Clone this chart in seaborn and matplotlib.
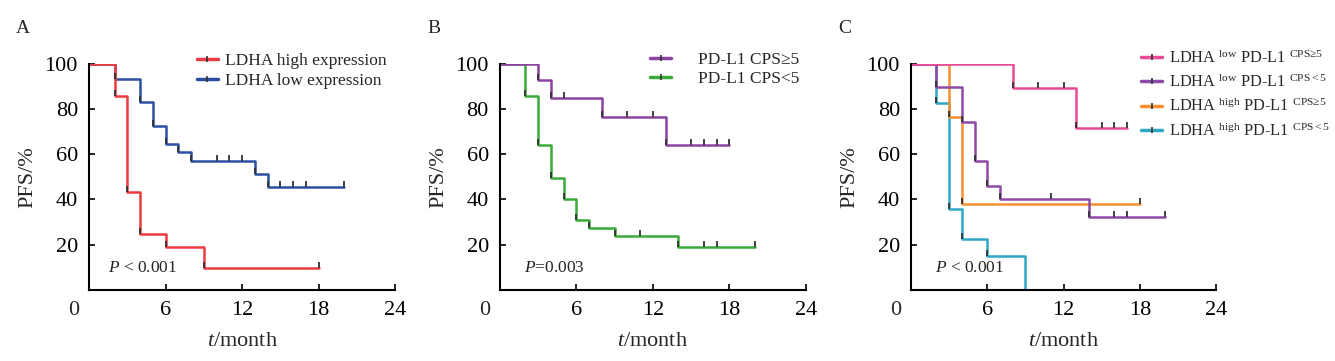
import matplotlib
matplotlib.use("Agg")
import matplotlib.pyplot as plt
import seaborn as sns
from matplotlib.lines import Line2D

# ---- data ----
# panel A
a_high_t = [0, 2, 3, 4, 6, 9, 18]
a_high_s = [100, 85.8, 43.3, 24.7, 19.0, 9.6, 9.6]
a_high_cens = [18]
a_low_t = [0, 2, 4, 5, 6, 7, 8, 13, 14, 20]
a_low_s = [100, 93.1, 83.0, 72.3, 64.7, 60.9, 56.9, 51.5, 45.6, 45.6]
a_low_cens = [10, 11, 12, 15, 16, 17, 20]

# panel B
b_hi_t = [0, 3, 4, 8, 13, 18]
b_hi_s = [100, 93.0, 85.0, 76.7, 64.1, 64.1]
b_hi_cens = [5, 10, 12, 15, 16, 17, 18]
b_lo_t = [0, 2, 3, 4, 5, 6, 7, 9, 14, 20]
b_lo_s = [100, 85.9, 64.2, 49.5, 40.2, 31.1, 27.6, 24.0, 19.1, 19.1]
b_lo_cens = [11, 16, 17, 20]

# panel C
c_ll_t = [0, 8, 13, 17]          # LDHA low / PD-L1 CPS>=5
c_ll_s = [100, 89.2, 71.7, 71.7]
c_ll_cens = [5, 10, 12, 15, 16, 17]
c_lh_t = [0, 2, 4, 5, 6, 7, 14, 20]   # LDHA low / CPS<5
c_lh_s = [100, 89.6, 74.1, 57.2, 46.0, 40.2, 32.3, 32.3]
c_lh_cens = [11, 16, 17, 20]
c_hl_t = [0, 3, 4, 18]           # LDHA high / CPS>=5
c_hl_s = [100, 76.3, 38.2, 38.2]
c_hl_cens = [18]
c_hh_t = [0, 2, 3, 4, 6, 9]      # LDHA high / CPS<5
c_hh_s = [100, 82.7, 36.0, 22.5, 15.2, 0]
c_hh_cens = []

x_ticks = [6, 12, 18, 24]
y_ticks = [20, 40, 60, 80, 100]

sns.set_theme(style="white")
plt.rcParams["font.family"] = ["Liberation Serif", "DejaVu Serif"]
plt.rcParams["mathtext.fontset"] = "custom"
plt.rcParams["mathtext.rm"] = "Liberation Serif"
plt.rcParams["mathtext.it"] = "Liberation Serif:italic"

tick_mark = [(0, 0), (0, 1)]
dark = "#333333"


def km(ax, t, s, cens, color, lw=1.8):
    sns.lineplot(x=t, y=s, ax=ax, color=color, linewidth=lw,
                 drawstyle="steps-post", estimator=None, sort=False)
    # little marks at each drop and at censored times
    drops = [(t[i], s[i]) for i in range(1, len(t)) if s[i] < s[i - 1] and s[i] > 0]
    cs = []
    for c in cens:
        lvl = s[0]
        for ti, si in zip(t, s):
            if ti <= c:
                lvl = si
        cs.append((c, lvl))
    pts = drops + cs
    if pts:
        ax.plot([p[0] for p in pts], [p[1] for p in pts], linestyle="none",
                marker=tick_mark, markersize=9, markeredgewidth=1.3,
                markeredgecolor=dark, zorder=5)


def style(ax, letter):
    ax.set_xlim(0, 24)
    ax.set_ylim(0, 100)
    ax.set_xticks(x_ticks)
    ax.set_yticks(y_ticks)
    ax.tick_params(direction="in", length=4, width=1.2, labelsize=16,
                   colors="black", pad=8, left=True, bottom=True)
    for side in ["top", "right"]:
        ax.spines[side].set_visible(False)
    for side in ["left", "bottom"]:
        ax.spines[side].set_color("black")
        ax.spines[side].set_linewidth(1.5)
    ax.set_xlabel("$t$/month", fontsize=16, labelpad=9)
    ax.set_ylabel("PFS/%", fontsize=16, labelpad=5)
    ax.text(-0.05, -0.05, "0", transform=ax.transAxes, fontsize=16,
            ha="center", va="top")
    ax.text(-0.238, 1.155, letter, transform=ax.transAxes, fontsize=14,
            ha="left", va="center")


def leg_handle(color):
    return Line2D([0], [0], color=color, linewidth=2.5, marker="|",
                  markersize=5, markeredgecolor=dark, markeredgewidth=1.2)


fig = plt.figure(figsize=(13.35, 3.61), dpi=100)
axA = fig.add_axes([0.0667, 0.197, 0.2292, 0.626])
axB = fig.add_axes([0.3745, 0.197, 0.2292, 0.626])
axC = fig.add_axes([0.6824, 0.197, 0.2285, 0.626])

# A
red, blue = "#ec3b40", "#2c4ea3"
km(axA, a_low_t, a_low_s, a_low_cens, blue)
km(axA, a_high_t, a_high_s, a_high_cens, red)
style(axA, "A")
axA.text(1.5, 9.5, "$P$ < 0.001", fontsize=12.5, va="center")
axA.legend([leg_handle(red), leg_handle(blue)],
           ["LDHA high expression", "LDHA low expression"],
           loc="upper left", bbox_to_anchor=(0.33, 1.08), frameon=False,
           fontsize=12.5, handlelength=1.2, handletextpad=0.4,
           labelspacing=0.25, borderaxespad=0)

# B
purple, green = "#8a44a0", "#3aaa3a"
km(axB, b_lo_t, b_lo_s, b_lo_cens, green)
km(axB, b_hi_t, b_hi_s, b_hi_cens, purple)
style(axB, "B")
axB.text(1.9, 9.5, "$P$=0.003", fontsize=12.5, va="center")
axB.legend([leg_handle(purple), leg_handle(green)],
           ["PD-L1 CPS≥5", "PD-L1 CPS<5"],
           loc="upper left", bbox_to_anchor=(0.467, 1.085), frameon=False,
           fontsize=12.5, handlelength=1.25, handletextpad=1.5,
           labelspacing=0.2, borderaxespad=0)

# C
pink, purple2, orange, cyan = "#ea4a96", "#8e4aa6", "#f5902e", "#2ea8c6"
km(axC, c_hh_t, c_hh_s, c_hh_cens, cyan)
km(axC, c_hl_t, c_hl_s, c_hl_cens, orange)
km(axC, c_lh_t, c_lh_s, c_lh_cens, purple2)
km(axC, c_ll_t, c_ll_s, c_ll_cens, pink)
style(axC, "C")
axC.text(1.9, 9.5, "$P$ < 0.001", fontsize=12.5, va="center")
axC.legend([leg_handle(pink), leg_handle(purple2), leg_handle(orange), leg_handle(cyan)],
           [r"LDHA $^{\mathrm{low}}$ PD-L1 $^{\mathrm{CPS≥5}}$",
            r"LDHA $^{\mathrm{low}}$ PD-L1 $^{\mathrm{CPS<5}}$",
            r"LDHA $^{\mathrm{high}}$ PD-L1 $^{\mathrm{CPS≥5}}$",
            r"LDHA $^{\mathrm{high}}$ PD-L1 $^{\mathrm{CPS<5}}$"],
           loc="upper left", bbox_to_anchor=(0.734, 1.095), frameon=False,
           fontsize=11.8, handlelength=1.25, handletextpad=0.4,
           labelspacing=0.38, borderaxespad=0)

fig.savefig("out.png", dpi=100)
